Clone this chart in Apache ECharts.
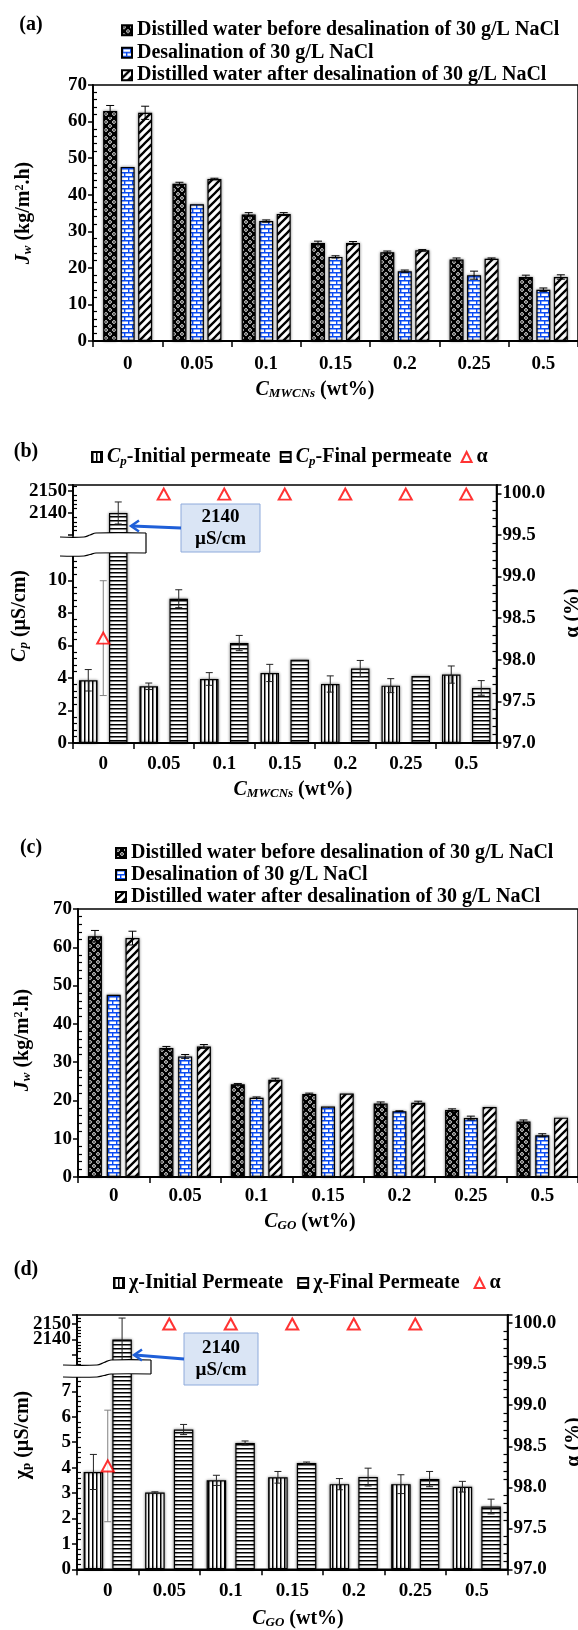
<!DOCTYPE html>
<html>
<head>
<meta charset="utf-8">
<script src="https://cdn.jsdelivr.net/npm/echarts@6/dist/echarts.min.js"></script>
<style>
html,body{margin:0;padding:0;background:#fff;}
#chart{width:578px;height:1630px;}
</style>
</head>
<body>
<div id="chart"></div>
<script>
// ---------- data ----------
const categories = ['0', '0.05', '0.1', '0.15', '0.2', '0.25', '0.5'];

// (a) water flux, MWCNs membranes (kg/m2.h)
const mwBefore    = [62.9, 43.0, 34.6, 26.8, 24.3, 22.3, 17.5];
const mwBeforeErr = [1.5, 0.4, 0.5, 0.5, 0.3, 0.4, 0.5];
const mwSalt      = [47.6, 37.4, 32.8, 23.0, 19.1, 18.0, 14.0];
const mwSaltErr   = [0, 0, 0.3, 0.3, 0.3, 1.1, 0.5];
const mwAfter     = [62.4, 44.3, 34.7, 26.8, 24.8, 22.5, 17.5];
const mwAfterErr  = [1.8, 0.2, 0.4, 0.4, 0.2, 0.2, 0.6];

// (b) permeate conductivity (µS/cm) and salt rejection (%), MWCNs membranes
const cpInitial    = [3.86, 3.49, 3.94, 4.31, 3.63, 3.53, 4.21];
const cpInitialErr = [0.66, 0.2, 0.39, 0.53, 0.5, 0.43, 0.53];
const cpFinal      = [2140, 8.88, 6.15, 5.13, 4.58, 4.12, 3.39];
const cpFinalErr   = [5, 0.55, 0.47, 0, 0.5, 0, 0.45];
const alphaMw      = [98.26, 99.99, 99.99, 99.99, 99.99, 99.99, 99.99];
const alphaMwErr   = [0.69, 0, 0, 0, 0, 0, 0];

// (c) water flux, GO membranes (kg/m2.h)
const goBefore    = [62.9, 33.7, 24.2, 21.7, 19.2, 17.5, 14.5];
const goBeforeErr = [1.5, 0.4, 0.2, 0.2, 0.4, 0.3, 0.4];
const goSalt      = [47.6, 31.5, 20.7, 18.4, 17.2, 15.4, 10.9];
const goSaltErr   = [0, 0.5, 0.2, 0, 0.1, 0.5, 0.4];
const goAfter     = [62.4, 34.1, 25.4, 21.8, 19.4, 18.3, 15.5];
const goAfterErr  = [1.8, 0.5, 0.4, 0, 0.4, 0, 0];

// (d) permeate conductivity (µS/cm) and salt rejection (%), GO membranes
const chiInitial    = [3.83, 3.02, 3.5, 3.62, 3.35, 3.35, 3.25];
const chiInitialErr = [0.69, 0.03, 0.2, 0.23, 0.22, 0.37, 0.21];
const chiFinal      = [2140, 5.5, 4.97, 4.18, 3.63, 3.55, 2.47];
const chiFinalErr   = [14, 0.2, 0.08, 0.04, 0.35, 0.3, 0.29];
const alphaGo       = [98.26, 99.99, 99.99, 99.99, 99.99, 99.99, null];
const alphaGoErr    = [0.68, 0, 0, 0, 0, 0, 0];

// legend / series names
const N_BEFORE = 'Distilled water before desalination of 30 g/L NaCl';
const N_SALT   = 'Desalination of 30 g/L NaCl';
const N_AFTER  = 'Distilled water after desalination of 30 g/L NaCl';
const N_CPI = 'Cp-Initial permeate';
const N_CPF = 'Cp-Final permeate';
const N_CHI = 'χ-Initial Permeate';
const N_CHF = 'χ-Final Permeate';
const N_ALPHA = 'α';

// ---------- styling helpers ----------
const FONT = '"Liberation Serif", "Times New Roman", serif';
const BOLD = {fontFamily: FONT, fontWeight: 'bold', color: '#000'};

function tile(w, h, draw) {
  const c = document.createElement('canvas');
  c.width = w; c.height = h;
  const ctx = c.getContext('2d');
  draw(ctx, w, h);
  return {image: c, repeat: 'repeat'};
}
const patSphere = tile(8, 8, (ctx) => {
  ctx.fillStyle = '#000'; ctx.fillRect(0, 0, 8, 8);
  ctx.strokeStyle = '#fff'; ctx.lineWidth = 0.9;
  [[2, 2], [6, 6]].forEach(([x, y]) => { ctx.beginPath(); ctx.arc(x, y, 1.4, 0, Math.PI * 2); ctx.stroke(); });
});
const patBrick = tile(8, 8, (ctx) => {
  ctx.fillStyle = '#fff'; ctx.fillRect(0, 0, 8, 8);
  ctx.strokeStyle = '#0a4cf5'; ctx.lineWidth = 1.4;
  ctx.beginPath();
  ctx.moveTo(0, 0.7); ctx.lineTo(8, 0.7);
  ctx.moveTo(0, 4.7); ctx.lineTo(8, 4.7);
  ctx.moveTo(0.7, 0.7); ctx.lineTo(0.7, 4.7);
  ctx.moveTo(4.7, 4.7); ctx.lineTo(4.7, 8);
  ctx.stroke();
});
const patHatch = tile(8, 8, (ctx) => {
  ctx.fillStyle = '#fff'; ctx.fillRect(0, 0, 8, 8);
  ctx.strokeStyle = '#000'; ctx.lineWidth = 2.3;
  ctx.beginPath();
  ctx.moveTo(-2, 10); ctx.lineTo(10, -2);
  ctx.moveTo(-6, 6); ctx.lineTo(6, -6);
  ctx.moveTo(2, 14); ctx.lineTo(14, 2);
  ctx.stroke();
});
const patVert = tile(4, 4, (ctx) => {
  ctx.fillStyle = '#fff'; ctx.fillRect(0, 0, 4, 4);
  ctx.fillStyle = '#000'; ctx.fillRect(0, 0, 1.5, 4);
});
const patHoriz = tile(4, 4, (ctx) => {
  ctx.fillStyle = '#fff'; ctx.fillRect(0, 0, 4, 4);
  ctx.fillStyle = '#000'; ctx.fillRect(0, 0, 4, 1.5);
});

const RICH = {
  i:   {fontFamily: FONT, fontWeight: 'bold', fontStyle: 'italic', fontSize: 20, color: '#000'},
  s:   {fontFamily: FONT, fontWeight: 'bold', fontStyle: 'italic', fontSize: 13, color: '#000', verticalAlign: 'bottom', lineHeight: 13},
  su:  {fontFamily: FONT, fontWeight: 'bold', fontSize: 13, color: '#000', verticalAlign: 'bottom', lineHeight: 13},
  sup: {fontFamily: FONT, fontWeight: 'bold', fontSize: 12, color: '#000', verticalAlign: 'top', lineHeight: 12},
  n:   {fontFamily: FONT, fontWeight: 'bold', fontSize: 20, color: '#000'}
};

// ---------- layout (px) ----------
const G = [
  {left: 93, top: 85, width: 488, height: 256},        // 0 (a)
  {left: 73, top: 485, width: 423.5, height: 258},     // 1 (b) frame + alpha
  {left: 73, top: 485, width: 423.5, height: 50},      // 2 (b) upper break part
  {left: 73, top: 548, width: 423.5, height: 195},     // 3 (b) lower part
  {left: 78, top: 909, width: 502, height: 268},       // 4 (c)
  {left: 77, top: 1315, width: 430.5, height: 254.3},  // 5 (d) frame + alpha
  {left: 77, top: 1315, width: 430.5, height: 55},     // 6 (d) upper break part
  {left: 77, top: 1366, width: 430.5, height: 203.3}   // 7 (d) lower part
];
const grids = G.map((g, i) => Object.assign({}, g, {
  show: (i === 0 || i === 1 || i === 4 || i === 5),
  borderColor: '#000', borderWidth: 1.5, backgroundColor: 'transparent'
}));

function xCat(gridIndex, show, margin) {
  return {
    type: 'category', gridIndex, data: categories, show,
    axisLine: {show: true, lineStyle: {color: '#000', width: 1.8}},
    axisTick: {show: true, length: 6, lineStyle: {color: '#000', width: 1.5}},
    axisLabel: Object.assign({fontSize: 19, margin}, BOLD),
    splitLine: {show: false}
  };
}
const xAxes = [
  xCat(0, true, 14), xCat(1, true, 12), xCat(2, false, 0), xCat(3, false, 0),
  xCat(4, true, 10), xCat(5, true, 12), xCat(6, false, 0), xCat(7, false, 0)
];

function yPair(gridIndex, position, min, max, interval, keep, fmt) {
  const base = {type: 'value', gridIndex, position, min, max, interval, splitLine: {show: false}};
  const main = Object.assign({}, base, {
    axisLine: {show: true, lineStyle: {color: '#000', width: 1.8}},
    axisTick: {show: true, inside: false, length: 5, lineStyle: {color: '#000', width: 1.5}},
    minorTick: {show: false},
    axisLabel: Object.assign({fontSize: 19, margin: 6, formatter: (v) => keep(v) ? fmt(v) : ''}, BOLD)
  });
  const comp = Object.assign({}, base, {
    axisLine: {show: false},
    axisTick: {show: false, inside: true},
    axisLabel: {show: false},
    minorTick: {show: true, splitNumber: 5, length: 4, lineStyle: {color: '#000', width: 1.2}}
  });
  return [main, comp];
}
const isMult = (v, step) => Math.abs(v / step - Math.round(v / step)) < 1e-6;
const plain = (v) => String(v);
const oneDec = (v) => v.toFixed(1);

const yAxes = [].concat(
  yPair(0, 'left', 0, 70, 10, () => true, plain),                               // 0,1
  yPair(1, 'right', 97, 100.1, 0.5, (v) => isMult(v, 0.5), oneDec),             // 2,3
  yPair(2, 'left', 2130, 2152.7, 10, (v) => v === 2140 || v === 2150, plain),   // 4,5
  yPair(3, 'left', 0, 12, 2, (v) => v <= 10, plain),                            // 6,7
  yPair(4, 'left', 0, 70, 10, () => true, plain),                               // 8,9
  yPair(5, 'right', 97, 100.1, 0.5, (v) => isMult(v, 0.5), oneDec),             // 10,11
  yPair(6, 'left', 2120, 2156, 10, (v) => v === 2140 || v === 2150, plain),     // 12,13
  yPair(7, 'left', 0, 8, 1, (v) => v <= 7, plain)                               // 14,15
);

// ---------- series helpers ----------
const barShadow = {shadowBlur: 3, shadowColor: 'rgba(0,0,0,0.45)'};
function bar(name, xi, yi, values, pattern, width, gap, range) {
  const data = values.map((v) => (v == null || v < range[0]) ? '-' : v);
  return {
    type: 'bar', name, xAxisIndex: xi, yAxisIndex: yi, data,
    barWidth: width, barGap: gap, clip: true, z: 2,
    itemStyle: Object.assign({color: pattern, borderColor: '#000', borderWidth: 1.2}, barShadow)
  };
}
function errBars(xi, yi, values, errs, offset, range, color, cap) {
  const data = [];
  values.forEach((v, i) => {
    if (v == null || !errs[i]) return;
    if (v < range[0] || v > range[1]) return;
    data.push([i, v, errs[i]]);
  });
  return {
    type: 'custom', xAxisIndex: xi, yAxisIndex: yi, data, z: 6, silent: true,
    encode: {x: 0, y: 1},
    renderItem: (params, api) => {
      const i = api.value(0), v = api.value(1), e = api.value(2);
      const hi = api.coord([i, v + e]);
      const lo = api.coord([i, v - e]);
      const x = hi[0] + offset;
      const style = {stroke: color, lineWidth: 1};
      return {type: 'group', children: [
        {type: 'line', shape: {x1: x, y1: hi[1], x2: x, y2: lo[1]}, style},
        {type: 'line', shape: {x1: x - cap, y1: hi[1], x2: x + cap, y2: hi[1]}, style},
        {type: 'line', shape: {x1: x - cap, y1: lo[1], x2: x + cap, y2: lo[1]}, style}
      ]};
    }
  };
}
function alphaSeries(xi, yi, values) {
  return {
    type: 'scatter', name: N_ALPHA, xAxisIndex: xi, yAxisIndex: yi,
    data: values.map((v) => v == null ? '-' : v),
    symbol: 'triangle', symbolSize: [12, 11], z: 8,
    itemStyle: {color: '#fff', borderColor: '#ff0000', borderWidth: 2}
  };
}

const ALL = [-Infinity, Infinity];
const series = [];

// (a)
{
  const bw = 14, gap = '25%', step = 14 * 1.25;
  series.push(bar(N_BEFORE, 0, 0, mwBefore, patSphere, bw, gap, ALL));
  series.push(bar(N_SALT, 0, 0, mwSalt, patBrick, bw, gap, ALL));
  series.push(bar(N_AFTER, 0, 0, mwAfter, patHatch, bw, gap, ALL));
  series.push(errBars(0, 0, mwBefore, mwBeforeErr, -step, ALL, '#000', 4));
  series.push(errBars(0, 0, mwSalt, mwSaltErr, 0, ALL, '#000', 4));
  series.push(errBars(0, 0, mwAfter, mwAfterErr, step, ALL, '#000', 4));
}
// (c)
{
  const bw = 14, gap = '34%', step = 14 * 1.34;
  series.push(bar(N_BEFORE + ' ', 4, 8, goBefore, patSphere, bw, gap, ALL));
  series.push(bar(N_SALT + ' ', 4, 8, goSalt, patBrick, bw, gap, ALL));
  series.push(bar(N_AFTER + ' ', 4, 8, goAfter, patHatch, bw, gap, ALL));
  series.push(errBars(4, 8, goBefore, goBeforeErr, -step, ALL, '#000', 4));
  series.push(errBars(4, 8, goSalt, goSaltErr, 0, ALL, '#000', 4));
  series.push(errBars(4, 8, goAfter, goAfterErr, step, ALL, '#000', 4));
}
// (b): broken conductivity axis (lower 0-12, upper 2130-2152.7) + rejection
{
  const bw = 18.5, gap = '62%', half = 18.5 * 1.62 / 2;
  const up = [2130, 2152.7], low = [0, 12];
  series.push(bar(N_CPI, 3, 6, cpInitial, patVert, bw, gap, low));
  series.push(bar(N_CPF, 3, 6, cpFinal, patHoriz, bw, gap, low));
  series.push(bar(N_CPI + ' upper', 2, 4, cpInitial, patVert, bw, gap, up));
  series.push(bar(N_CPF + ' upper', 2, 4, cpFinal, patHoriz, bw, gap, up));
  series.push(errBars(3, 6, cpInitial, cpInitialErr, -half, low, '#222', 3.5));
  series.push(errBars(3, 6, cpFinal, cpFinalErr, half, low, '#222', 3.5));
  series.push(errBars(2, 4, cpFinal, cpFinalErr, half, up, '#222', 3.5));
  series.push(alphaSeries(1, 2, alphaMw));
  series.push(errBars(1, 2, alphaMw, alphaMwErr, 0, ALL, '#808080', 3.5));
}
// (d): broken conductivity axis (lower 0-8, upper 2120-2156) + rejection
{
  const bw = 19.5, gap = '47%', half = 19.5 * 1.47 / 2;
  const up = [2120, 2156], low = [0, 8];
  series.push(bar(N_CHI, 7, 14, chiInitial, patVert, bw, gap, low));
  series.push(bar(N_CHF, 7, 14, chiFinal, patHoriz, bw, gap, low));
  series.push(bar(N_CHI + ' upper', 6, 12, chiInitial, patVert, bw, gap, up));
  series.push(bar(N_CHF + ' upper', 6, 12, chiFinal, patHoriz, bw, gap, up));
  series.push(errBars(7, 14, chiInitial, chiInitialErr, -half, low, '#222', 3.5));
  series.push(errBars(7, 14, chiFinal, chiFinalErr, half, low, '#222', 3.5));
  series.push(errBars(6, 12, chiFinal, chiFinalErr, half, up, '#222', 3.5));
  series.push(alphaSeries(5, 10, alphaGo));
  series.push(errBars(5, 10, alphaGo, alphaGoErr, 0, ALL, '#808080', 3.5));
}

// ---------- legends ----------
const legendText = Object.assign({fontSize: 20}, BOLD);
const legends = [
  {orient: 'vertical', left: 116, top: 14, itemWidth: 10, itemHeight: 10, itemGap: 0,
   icon: 'rect', selectedMode: false,
   textStyle: Object.assign({lineHeight: 22.5}, legendText),
   data: [N_BEFORE, N_SALT, N_AFTER]},
  {orient: 'vertical', left: 110, top: 837, itemWidth: 10, itemHeight: 10, itemGap: 0,
   icon: 'rect', selectedMode: false,
   textStyle: Object.assign({lineHeight: 22}, legendText),
   data: [N_BEFORE + ' ', N_SALT + ' ', N_AFTER + ' '],
   formatter: (n) => n.trim()},
  {orient: 'horizontal', left: 86, top: 441, itemWidth: 10, itemHeight: 10, itemGap: 9,
   selectedMode: false,
   textStyle: Object.assign({lineHeight: 22, rich: RICH}, legendText),
   data: [{name: N_CPI, icon: 'rect'}, {name: N_CPF, icon: 'rect'}, {name: N_ALPHA, icon: 'triangle'}],
   formatter: (n) => n === N_CPI ? '{i|C}{s|p}-Initial permeate'
                   : n === N_CPF ? '{i|C}{s|p}-Final permeate' : 'α'},
  {orient: 'horizontal', left: 108, top: 1267, itemWidth: 10, itemHeight: 10, itemGap: 14,
   selectedMode: false,
   textStyle: Object.assign({lineHeight: 22}, legendText),
   data: [{name: N_CHI, icon: 'rect'}, {name: N_CHF, icon: 'rect'}, {name: N_ALPHA, icon: 'triangle'}]}
];

// ---------- text, axis break marks and callouts ----------
function txt(x, y, text, rot, extra) {
  return {
    type: 'text', x, y, rotation: rot || 0, z: 60, silent: true,
    style: Object.assign({text, align: 'center', verticalAlign: 'middle', rich: RICH,
                          fontFamily: FONT, fontWeight: 'bold', fontSize: 20, fill: '#000'}, extra || {})
  };
}
function breakMark(x0, x1, xs0, xs1, yTopL, yTopR, yBotL, yBotR) {
  const top = [[x0, yTopL], [xs0, yTopL], [(xs0 + xs1) / 2, (yTopL + yTopR) / 2], [xs1, yTopR], [x1, yTopR]];
  const bot = [[x1, yBotR], [xs1, yBotR], [(xs0 + xs1) / 2, (yBotL + yBotR) / 2], [xs0, yBotL], [x0, yBotL]];
  const line = {stroke: '#000', lineWidth: 1.2, fill: null};
  return [
    {type: 'polygon', z: 50, silent: true, shape: {points: top.concat(bot)}, style: {fill: '#fff', stroke: null}},
    {type: 'polyline', z: 51, silent: true, shape: {points: top, smooth: 0.4}, style: line},
    {type: 'polyline', z: 51, silent: true, shape: {points: bot, smooth: 0.4}, style: line},
    {type: 'line', z: 51, silent: true, shape: {x1: x1, y1: yTopR, x2: x1, y2: yBotR}, style: line}
  ];
}
function callout(bx, by, bw, bh, ax, ay) {
  return [
    {type: 'rect', z: 55, silent: true, shape: {x: bx, y: by, width: bw, height: bh},
     style: {fill: '#dae5f5', stroke: '#8eaadb', lineWidth: 1}},
    txt(bx + bw / 2, by + bh / 2, '2140\nµS/cm', 0, {fontSize: 19, lineHeight: 22}),
    {type: 'line', z: 56, silent: true, shape: {x1: bx, y1: by + bh / 2, x2: ax + 1, y2: ay},
     style: {stroke: '#1f5fd8', lineWidth: 3}},
    {type: 'polyline', z: 56, silent: true,
     shape: {points: [[ax + 8, ay - 5.5], [ax, ay], [ax + 8, ay + 5.5]]},
     style: {stroke: '#1f5fd8', lineWidth: 2.5, fill: null}}
  ];
}

const graphics = [].concat(
  [
    txt(31, 25, '(a)'), txt(26, 452, '(b)'), txt(31, 848, '(c)'), txt(26, 1270, '(d)'),
    // axis titles
    txt(24, 213, '{i|J}{s|w}{n| (kg/m}{sup|2}{n|.h)}', Math.PI / 2),
    txt(315, 390, '{i|C}{s|MWCNs}{n| (wt%)}'),
    txt(20, 616, '{i|C}{s|p}{n| (µS/cm)}', Math.PI / 2),
    txt(573, 613, 'α (%)', Math.PI / 2),
    txt(293, 790, '{i|C}{s|MWCNs}{n| (wt%)}'),
    txt(23, 1040, '{i|J}{s|w}{n| (kg/m}{sup|2}{n|.h)}', Math.PI / 2),
    txt(310, 1222, '{i|C}{s|GO}{n| (wt%)}'),
    txt(23, 1435, '{n|χ}{su|p}{n| (µS/cm)}', Math.PI / 2),
    txt(574, 1442, 'α (%)', Math.PI / 2),
    txt(298, 1619, '{i|C}{s|GO}{n| (wt%)}')
  ],
  breakMark(60, 146, 84, 96, 537, 533, 556, 553),
  breakMark(63, 151, 97, 111, 1365, 1360, 1377, 1374),
  callout(181, 504, 79, 48, 131, 526),
  callout(184, 1333, 74, 52, 134, 1355)
);

const chart = echarts.init(document.getElementById('chart'), null, {renderer: 'canvas'});
chart.setOption({
  animation: false,
  backgroundColor: '#fff',
  grid: grids,
  xAxis: xAxes,
  yAxis: yAxes,
  legend: legends,
  series,
  graphic: graphics
});
</script>
</body>
</html>
